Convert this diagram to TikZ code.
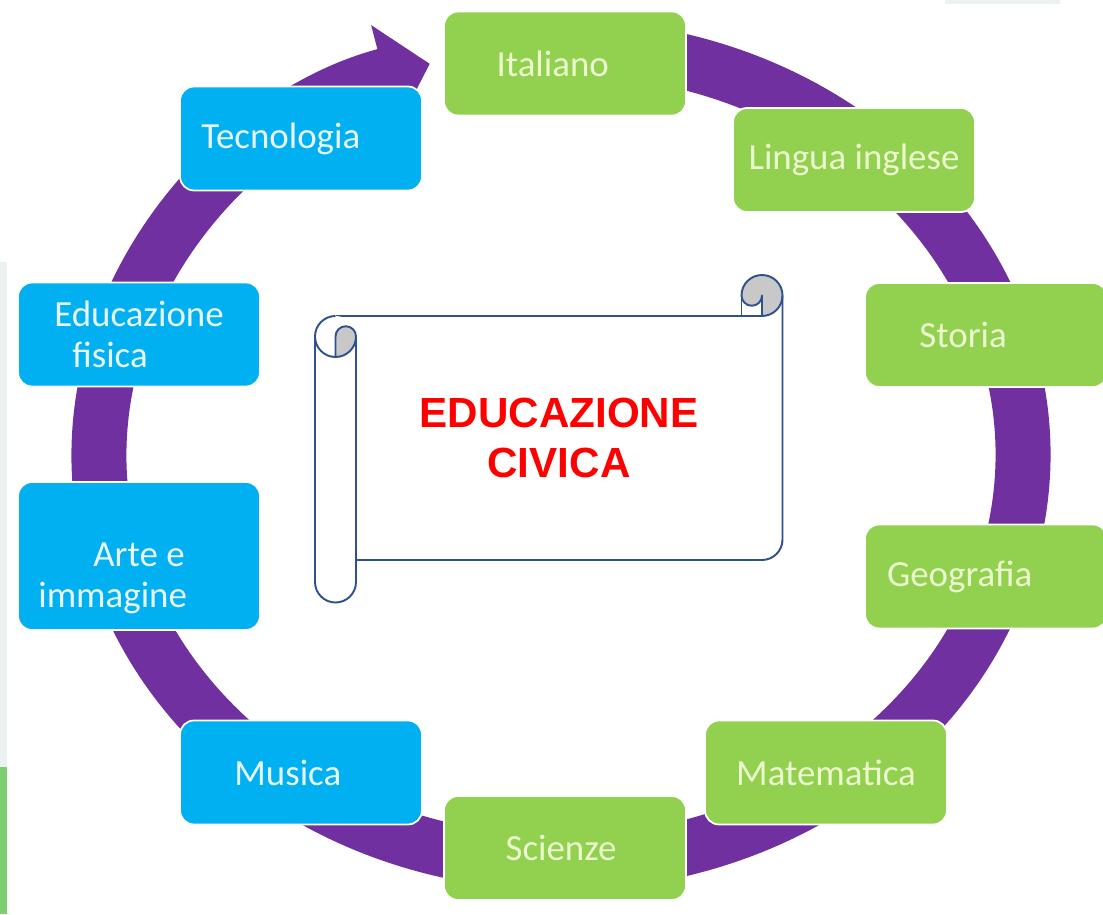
\documentclass[tikz,border=0pt]{standalone}
\usepackage{fontspec}
\setmainfont{Carlito}
\newfontfamily\titolofont{Liberation Sans}
\usetikzlibrary{arrows.meta}
\definecolor{viola}{RGB}{112,48,160}
\definecolor{verde}{RGB}{146,208,80}
\definecolor{azzurro}{RGB}{0,176,240}
\definecolor{testoverde}{RGB}{236,248,206}
\definecolor{testoazzurro}{RGB}{232,246,252}
\definecolor{bordo}{RGB}{47,82,143}
\definecolor{grigio}{RGB}{200,200,200}
\definecolor{striscia}{RGB}{236,241,241}
\definecolor{strisciaverde}{RGB}{125,208,112}
\tikzset{
  materia/.style={draw=white,line width=1pt,rounded corners=0.28cm,
    minimum width=4.84cm,minimum height=2.08cm,inner sep=0pt,align=center,
    font=\fontsize{21}{23}\selectfont},
  materiaverde/.style={materia,fill=verde,text=testoverde},
  materiablu/.style={materia,fill=azzurro,text=testoazzurro},
  rientro/.style={execute at end node={\hspace*{#1}}},
  rotolo/.style={draw=bordo,line width=1.1pt,line join=round}
}
\begin{document}
\begin{tikzpicture}[x=0.02cm,y=0.02cm]
    \clip (0,0) rectangle (1103,914);
    \fill[white] (0,0) rectangle (1103,914);
    \fill[striscia] (0,147) rectangle (7,652);
    \fill[strisciaverde] (0,0) rectangle (7,147);
    \fill[striscia] (945,910) rectangle (1060,914);
    \coordinate(A0) at (561,459);
    \draw[viola,line width=1.1cm,-{Triangle[length=0.94cm,width=2.04cm]}]
      (A0) ++(80:462 and 408) arc[start angle=80,end angle=-253.5,x radius=462,y radius=408];
    \coordinate(B1) at (565,850.5);
    \coordinate(B2) at (854,754);
    \coordinate(B3) at (986,579);
    \coordinate(B4) at (986,337.5);
    \coordinate(B5) at (826,141.5);
    \coordinate(B6) at (565,66);
    \coordinate(B7) at (301,141.5);
    \coordinate(B8) at (139,358);
    \coordinate(B9) at (139,579.5);
    \coordinate(B10) at (301,775.5);
    \foreach \p/\t/\s in {B1/Italiano/14,B2/Lingua inglese/0,B3/Storia/26,B4/Geografia/30,B5/Matematica/0,B6/Scienze/4.5}{
      \node[materiaverde,rientro=\s pt] (n\p) at (\p) {\t};
    }
    \foreach \p/\t/\s in {B7/Musica/15,B9/{Educazione\\fisica\hspace*{33pt}}/0,B10/Tecnologia/23}{
      \node[materiablu,rientro=\s pt] (n\p) at (\p) {\t};
    }
    \node[materiablu,minimum height=2.96cm] (nB8) at (B8)
      {\raisebox{-0.64cm}[0pt][0pt]{\begin{tabular}{@{}c@{}}Arte e\\immagine\hspace*{30pt}\end{tabular}}};
    \fill[white] (356,354) -- (762,354) arc[start angle=-90,end angle=0,radius=20.5]
      -- (782.5,618.5) arc[start angle=0,end angle=180,radius=20.5] -- (741.5,598) -- (356,598) -- cycle;
    \filldraw[rotolo,fill=grigio] (741.5,618.5) arc[start angle=180,end angle=-90,radius=20.5]
      -- (762,618.5) arc[start angle=0,end angle=-180,radius=10.25] -- cycle;
    \draw[rotolo] (335.5,598) -- (762,598);
    \draw[rotolo] (741.5,598) -- (741.5,618.5);
    \draw[rotolo] (782.5,618.5) -- (782.5,374.5) arc[start angle=0,end angle=-90,radius=20.5] -- (356,354);
    \fill[white] (315,577.5) -- (315,332) arc[start angle=180,end angle=360,radius=20.5]
      -- (356,577.5) arc[start angle=0,end angle=180,radius=20.5] -- cycle;
    \draw[rotolo] (335.5,598) arc[start angle=90,end angle=270,radius=20.5];
    \draw[rotolo] (315,577.5) -- (315,332) arc[start angle=180,end angle=360,radius=20.5] -- (356,577.5);
    \filldraw[rotolo,fill=grigio] (335.5,557) -- (335.5,577.5) arc[start angle=180,end angle=0,radius=10.25]
      arc[start angle=0,end angle=-90,radius=20.5] -- cycle;
    \node[font=\titolofont\bfseries\fontsize{24}{28.5}\selectfont,text=red,align=center] (titolo) at (559,476) {EDUCAZIONE\\CIVICA};
  \end{tikzpicture}
\end{document}
